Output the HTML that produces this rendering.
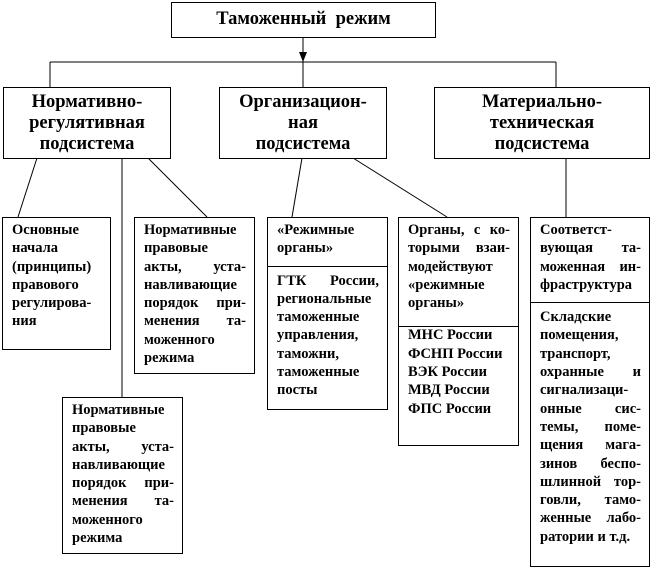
<!DOCTYPE html><html><head><meta charset="utf-8"><style>
body{margin:0;width:654px;height:568px;background:#fff;position:relative;font-family:"Liberation Serif",serif;font-weight:bold;color:#000;overflow:hidden}
.b{position:absolute;border:1px solid #000;box-sizing:border-box;background:#fff}
.h{text-align:center;font-size:18.5px;line-height:21px;padding-top:4px;white-space:nowrap}
.t{font-size:14.5px;line-height:18.3px;padding:3px 8px 0 9px;white-space:nowrap}
.t div{height:18.3px}
.j{text-align:justify;text-align-last:justify}
.d{position:absolute;left:0;right:0;border-top:1px solid #000}
svg{position:absolute;left:0;top:0}
</style></head><body>
<svg width="654" height="568"><g stroke="#000" stroke-width="1" fill="none">
<line x1="303" y1="37" x2="303" y2="62"/>
<line x1="50" y1="62" x2="556" y2="62"/>
<line x1="50" y1="62" x2="50" y2="87"/>
<line x1="303" y1="62" x2="303" y2="87"/>
<line x1="556" y1="62" x2="556" y2="87"/>
<line x1="37" y1="158" x2="18" y2="217"/>
<line x1="122" y1="158" x2="122" y2="397"/>
<line x1="148" y1="158" x2="207" y2="217"/>
<line x1="302" y1="158" x2="292" y2="217"/>
<line x1="353" y1="158" x2="447" y2="217"/>
<line x1="566" y1="158" x2="566" y2="217"/>
</g><polygon points="299,52 307,52 303,62" fill="#000"/></svg>
<div class="b h" style="left:171px;top:2px;width:265px;height:36px;padding-top:6px">Таможенный&nbsp; режим</div>
<div class="b h" style="left:3px;top:87px;width:168px;height:72px">Нормативно-<br>регулятивная<br>подсистема</div>
<div class="b h" style="left:219px;top:87px;width:168px;height:72px">Организацион-<br>ная<br>подсистема</div>
<div class="b h" style="left:434px;top:87px;width:216px;height:72px">Материально-<br>техническая<br>подсистема</div>
<div class="b t" style="left:2px;top:217px;width:109px;height:133px"><div>Основные</div><div>начала</div><div>(принципы)</div><div>правового</div><div>регулирова-</div><div>ния</div></div>
<div class="b t" style="left:134px;top:217px;width:121px;height:157px"><div>Нормативные</div><div>правовые</div><div class="j">акты, уста-</div><div>навливающие</div><div class="j">порядок при-</div><div class="j">менения та-</div><div>моженного</div><div>режима</div></div>
<div class="b t" style="left:62px;top:397px;width:121px;height:157px"><div>Нормативные</div><div>правовые</div><div class="j">акты, уста-</div><div>навливающие</div><div class="j">порядок при-</div><div class="j">менения та-</div><div>моженного</div><div>режима</div></div>
<div class="b t" style="left:267px;top:217px;width:121px;height:193px"><div>«Режимные</div><div>органы»</div><div class="d" style="top:48px"></div><div style="height:14px"></div><div class="j">ГТК России,</div><div>региональные</div><div>таможенные</div><div>управления,</div><div>таможни,</div><div>таможенные</div><div>посты</div></div>
<div class="b t" style="left:398px;top:217px;width:121px;height:229px"><div class="j">Органы, с ко-</div><div class="j">торыми взаи-</div><div>модействуют</div><div>«режимные</div><div>органы»</div><div class="d" style="top:108px"></div><div style="height:14px"></div><div>МНС России</div><div>ФСНП России</div><div>ВЭК России</div><div>МВД России</div><div>ФПС России</div></div>
<div class="b t" style="left:530px;top:217px;width:120px;height:350px"><div>Соответст-</div><div class="j">вующая та-</div><div class="j">моженная ин-</div><div>фраструктура</div><div class="d" style="top:84px"></div><div style="height:14px"></div><div>Складские</div><div>помещения,</div><div>транспорт,</div><div class="j">охранные и</div><div>сигнализаци-</div><div class="j">онные сис-</div><div class="j">темы, поме-</div><div class="j">щения мага-</div><div class="j">зинов беспо-</div><div class="j">шлинной тор-</div><div class="j">говли, тамо-</div><div class="j">женные лабо-</div><div>ратории и т.д.</div></div>
</body></html>
